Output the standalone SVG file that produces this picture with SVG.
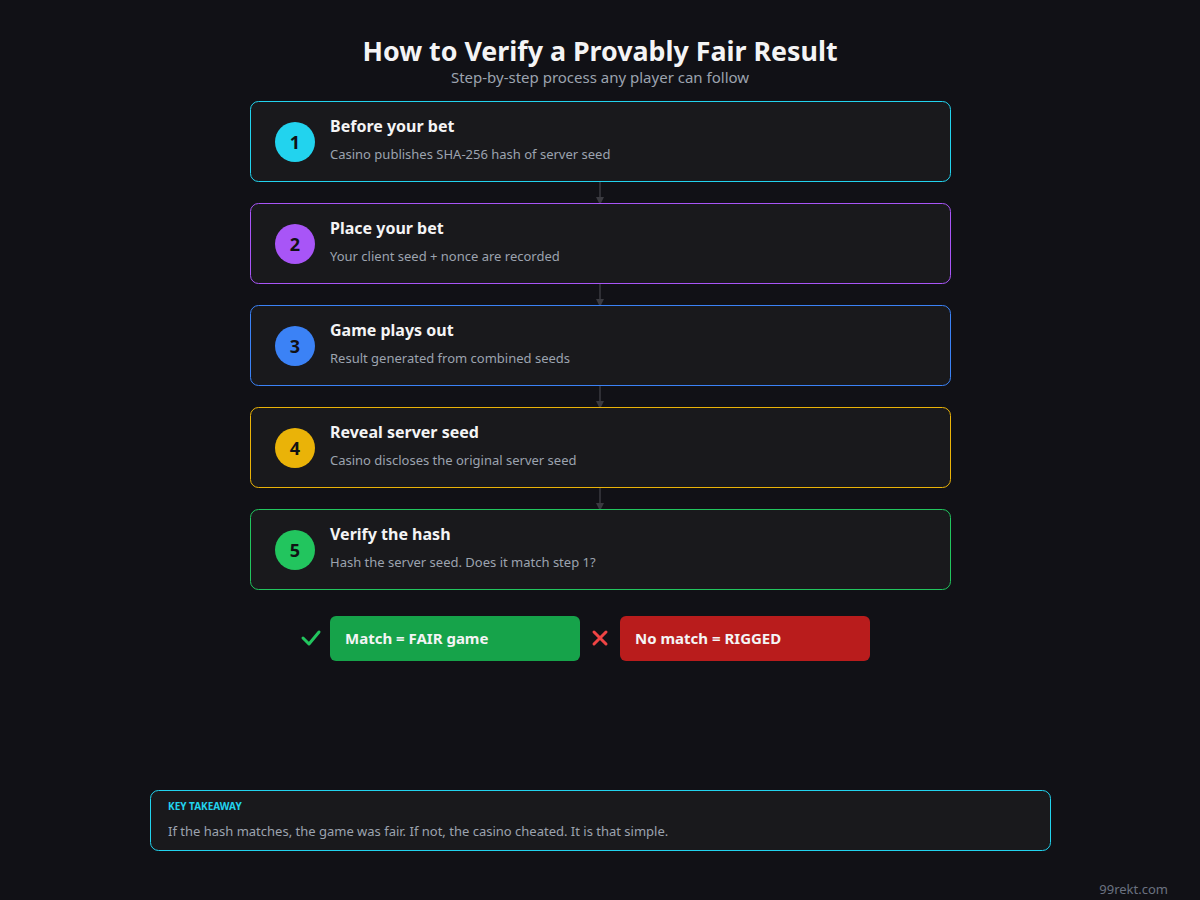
<svg xmlns="http://www.w3.org/2000/svg" width="1200" height="900" viewBox="0 0 1200 900">
<defs>
<style>
text{font-family:"Noto Sans","Open Sans","Liberation Sans",sans-serif}
.card{fill:#19191c;stroke-width:1}
.t{font-size:16px;font-weight:700;fill:#f4f4f5}
.s{font-size:13px;fill:#9ca3af}
.n{font-size:18px;font-weight:700;fill:#111114;text-anchor:middle}
.conn{stroke:#3a3a40;stroke-width:1.5;fill:none}
.badge{font-size:15px;font-weight:700;fill:#f4f4f5}
</style>
<marker id="ah" markerWidth="8" markerHeight="8" refX="4" refY="4" orient="auto" markerUnits="userSpaceOnUse">
<path d="M0,0 L8,4 L0,8 Z" fill="#3a3a40"/>
</marker>
</defs>
<rect width="1200" height="900" fill="#111116"/>
<text x="600" y="61" text-anchor="middle" style="font-size:26.8px;font-weight:700;fill:#f4f4f5">How to Verify a Provably Fair Result</text>
<text x="600" y="83" text-anchor="middle" style="font-size:15px;fill:#9ca3af">Step-by-step process any player can follow</text>

<g id="connectors">
<line class="conn" x1="600" y1="181" x2="600" y2="201" marker-end="url(#ah)"/>
<line class="conn" x1="600" y1="283" x2="600" y2="303" marker-end="url(#ah)"/>
<line class="conn" x1="600" y1="385" x2="600" y2="405" marker-end="url(#ah)"/>
<line class="conn" x1="600" y1="487" x2="600" y2="507" marker-end="url(#ah)"/>
</g>

<g id="step1">
<rect class="card" x="250.5" y="101.5" width="700" height="80" rx="8" stroke="#22d3ee"/>
<circle cx="295" cy="142" r="20" fill="#22d3ee"/>
<text class="n" x="295" y="148.5">1</text>
<text class="t" x="330" y="132">Before your bet</text>
<text class="s" x="330" y="159">Casino publishes SHA-256 hash of server seed</text>
</g>
<g id="step2">
<rect class="card" x="250.5" y="203.5" width="700" height="80" rx="8" stroke="#a855f7"/>
<circle cx="295" cy="244" r="20" fill="#a855f7"/>
<text class="n" x="295" y="250.5">2</text>
<text class="t" x="330" y="234">Place your bet</text>
<text class="s" x="330" y="261">Your client seed + nonce are recorded</text>
</g>
<g id="step3">
<rect class="card" x="250.5" y="305.5" width="700" height="80" rx="8" stroke="#3b82f6"/>
<circle cx="295" cy="346" r="20" fill="#3b82f6"/>
<text class="n" x="295" y="352.5">3</text>
<text class="t" x="330" y="336">Game plays out</text>
<text class="s" x="330" y="363">Result generated from combined seeds</text>
</g>
<g id="step4">
<rect class="card" x="250.5" y="407.5" width="700" height="80" rx="8" stroke="#eab308"/>
<circle cx="295" cy="448" r="20" fill="#eab308"/>
<text class="n" x="295" y="454.5">4</text>
<text class="t" x="330" y="438">Reveal server seed</text>
<text class="s" x="330" y="465">Casino discloses the original server seed</text>
</g>
<g id="step5">
<rect class="card" x="250.5" y="509.5" width="700" height="80" rx="8" stroke="#22c55e"/>
<circle cx="295" cy="550" r="20" fill="#22c55e"/>
<text class="n" x="295" y="556.5">5</text>
<text class="t" x="330" y="540">Verify the hash</text>
<text class="s" x="330" y="567">Hash the server seed. Does it match step 1?</text>
</g>

<g id="fair">
<path d="M303,638 L309,644 L319,632" fill="none" stroke="#22c55e" stroke-width="3" stroke-linecap="round" stroke-linejoin="round"/>
<rect x="330" y="616" width="250" height="45" rx="6" fill="#16a34a"/>
<text class="badge" x="345" y="644">Match = FAIR game</text>
</g>
<g id="rigged">
<path d="M594,632 L606,644 M606,632 L594,644" stroke="#ef4444" stroke-width="3" stroke-linecap="round"/>
<rect x="620" y="616" width="250" height="45" rx="6" fill="#b91c1c"/>
<text class="badge" x="635" y="644">No match = RIGGED</text>
</g>

<g id="takeaway">
<rect x="150.5" y="790.5" width="900" height="60" rx="8" fill="#19191c" stroke="#22d3ee"/>
<text x="168" y="810" style="font-size:10px;font-weight:700;fill:#22d3ee">KEY TAKEAWAY</text>
<text x="168" y="836" style="font-size:13px;fill:#9ca3af">If the hash matches, the game was fair. If not, the casino cheated. It is that simple.</text>
</g>
<text x="1168" y="894" text-anchor="end" style="font-size:13px;fill:#6b7280">99rekt.com</text>
</svg>
